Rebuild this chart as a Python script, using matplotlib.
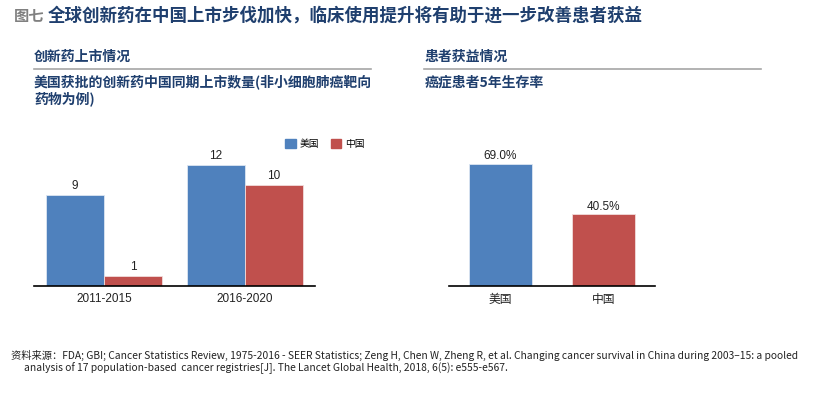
import matplotlib.pyplot as plt
from matplotlib.patches import Patch

plt.rcParams['font.family'] = ['Liberation Sans', 'Noto Sans CJK SC']

# data
periods = ['2011-2015', '2016-2020']
us_drugs = [9, 12]
cn_drugs = [1, 10]
countries = ['美国', '中国']
survival = [69.0, 40.5]

blue = '#4F81BD'
red = '#C0504D'
navy = '#1F3F6E'
cjk = ['Noto Sans CJK SC', 'DejaVu Sans']

fig = plt.figure(figsize=(8.16, 3.93), dpi=100)
W, H = 816, 393


def fx(px):
    return px / W


def fy(py):
    return 1 - py / H


# titles
fig.text(fx(14), fy(16), '图七', family=cjk, fontsize=11, fontweight='bold',
         color='#808080', va='center')
fig.text(fx(48), fy(16), '全球创新药在中国上市步伐加快，临床使用提升将有助于进一步改善患者获益',
         family=cjk, fontsize=12.6, fontweight='bold', color=navy, va='center')

fig.text(fx(34), fy(57), '创新药上市情况', family=cjk, fontsize=10,
         fontweight='bold', color=navy, va='center')
fig.text(fx(34), fy(90), '美国获批的创新药中国同期上市数量(非小细胞肺癌靶向\n药物为例)',
         family=cjk, fontsize=10, fontweight='bold', color=navy, va='center',
         linespacing=1.15)
fig.text(fx(425), fy(57), '患者获益情况', family=cjk, fontsize=10,
         fontweight='bold', color=navy, va='center')
fig.text(fx(425), fy(83), '癌症患者5年生存率', family=cjk, fontsize=10,
         fontweight='bold', color=navy, va='center')
fig.add_artist(plt.Line2D([fx(34), fx(371)], [fy(69), fy(69)], color='#A6A6A6', lw=1.2))
fig.add_artist(plt.Line2D([fx(424), fx(761)], [fy(69), fy(69)], color='#A6A6A6', lw=1.2))

# left chart
ax1 = fig.add_axes([fx(34), fy(285.7), fx(281), 141.4 / H])
x = range(len(periods))
w = 0.413
b1 = ax1.bar([i - w / 2 for i in x], us_drugs, w, color=blue, edgecolor='#DCE6F2', linewidth=0.6)
b2 = ax1.bar([i + w / 2 for i in x], cn_drugs, w, color=red, edgecolor='#F2DCDB', linewidth=0.6)
for bars in (b1, b2):
    for r in bars:
        ax1.annotate(f'{int(r.get_height())}', (r.get_x() + r.get_width() / 2, r.get_height()),
                     xytext=(0, 2), textcoords='offset points', ha='center', va='bottom',
                     fontsize=8.5, color='#222222')
ax1.set_xlim(-0.5, 1.5)
ax1.set_ylim(0, 14)
ax1.set_xticks(list(x))
ax1.set_xticklabels(periods, fontsize=8.5)

# right chart
ax2 = fig.add_axes([fx(449), fy(285.7), fx(206), 141.4 / H])
bars = ax2.bar(range(len(countries)), survival, 0.62, color=[blue, red],
               edgecolor=['#DCE6F2', '#F2DCDB'], linewidth=0.6)
for r in bars:
    ax2.annotate(f'{r.get_height():.1f}%', (r.get_x() + r.get_width() / 2, r.get_height()),
                 xytext=(0, 1), textcoords='offset points', ha='center', va='bottom',
                 fontsize=8.5, color='#222222')
ax2.set_xlim(-0.5, 1.5)
ax2.set_ylim(0, 80)
ax2.set_xticks(range(len(countries)))
ax2.set_xticklabels(countries, family=cjk, fontsize=8.5)

for ax in (ax1, ax2):
    for s in ('top', 'right', 'left'):
        ax.spines[s].set_visible(False)
    ax.spines['bottom'].set_linewidth(1.2)
    ax.set_yticks([])
    ax.tick_params(axis='x', length=0, pad=5, colors='#222222')

fig.legend(handles=[Patch(color=blue, label='美国'), Patch(color=red, label='中国')],
           loc='center left', bbox_to_anchor=(fx(281), fy(144)), ncol=2, frameon=False,
           prop={'family': cjk, 'size': 7}, handlelength=1.1, handleheight=1.1,
           handletextpad=0.4, columnspacing=1.2, borderaxespad=0)

# source
src_font = ['Liberation Sans Narrow', 'Noto Sans CJK SC']
fig.text(fx(11), fy(355), '资料来源：FDA; GBI; Cancer Statistics Review, 1975-2016 - SEER Statistics; '
         'Zeng H, Chen W, Zheng R, et al. Changing cancer survival in China during 2003–15: a pooled',
         family=src_font, fontsize=7.4, va='center', color='#222222')
fig.text(fx(24), fy(368), 'analysis of 17 population-based  cancer registries[J]. The Lancet Global Health, '
         '2018, 6(5): e555-e567.',
         family=src_font, fontsize=7.4, va='center', color='#222222')

fig.savefig('out.png', dpi=100)
